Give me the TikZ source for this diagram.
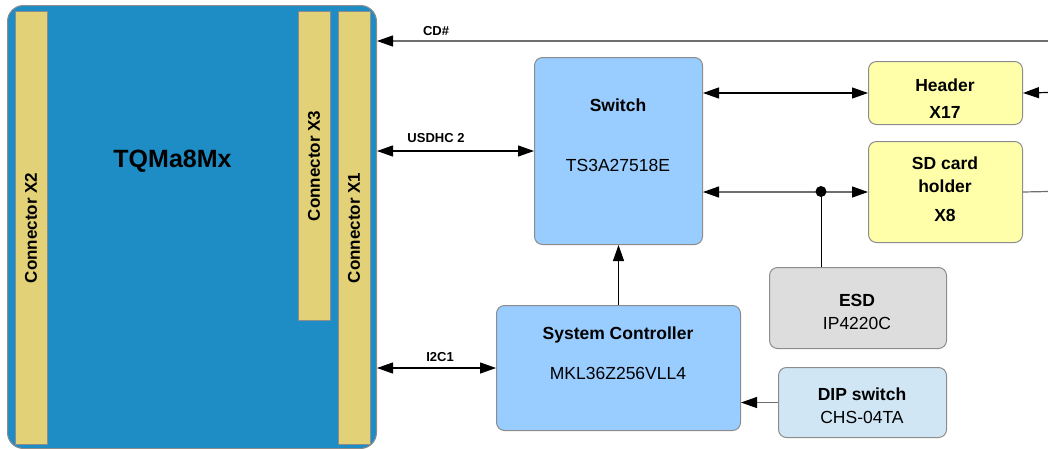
\documentclass[tikz,border=0pt]{standalone}
\usepackage{fontspec}
\setmainfont{Liberation Sans}
\usetikzlibrary{arrows.meta}
\definecolor{tqblue}{HTML}{1E8DC5}
\definecolor{conyel}{HTML}{E2D176}
\definecolor{swblue}{HTML}{99CCFF}
\definecolor{hdryel}{HTML}{FFFFAA}
\definecolor{esdgray}{HTML}{DDDDDD}
\definecolor{dipblue}{HTML}{D0E6F5}
\definecolor{edgegray}{HTML}{8C8C8C}
\definecolor{linegray}{HTML}{6E6E6E}
\tikzset{
  >={Triangle[length=16pt,width=11pt,color=black]},
  blk/.style={draw=edgegray, line width=1pt, rounded corners=8pt, anchor=north west, inner sep=0pt},
  conn/.style={draw=edgegray, line width=1pt, fill=conyel, anchor=north west, inner sep=0pt},
  ttl/.style={font=\fontsize{17.5}{21}\selectfont\bfseries, inner sep=0pt},
  sub/.style={font=\fontsize{17.5}{21}\selectfont, inner sep=0pt},
  lbl/.style={font=\fontsize{13}{15}\selectfont\bfseries, inner sep=0pt},
  contxt/.style={font=\fontsize{17}{20}\selectfont\bfseries, inner sep=0pt, rotate=90},
  sig/.style={line width=1.2pt, draw=black},
  gsig/.style={line width=1.2pt, draw=linegray},
}
\begin{document}
\begin{tikzpicture}[x=1pt,y=-1pt]
\useasboundingbox (0,0) rectangle (1048,448);
% main module
\node[blk, rounded corners=16pt, fill=tqblue, minimum width=369pt, minimum height=443pt] (tq) at (7,5) {};
\node[conn, minimum width=32pt, minimum height=433pt] (x2) at (15,11) {};
\node[conn, minimum width=32pt, minimum height=309pt] (x3) at (298,11) {};
\node[conn, minimum width=32pt, minimum height=433pt] (x1) at (338,11) {};
\node[font=\fontsize{25}{30}\selectfont\bfseries, inner sep=0pt] (tqt) at (172.5,161) {TQMa8Mx};
\node[contxt] (x2t) at (31,228) {Connector X2};
\node[contxt] (x3t) at (314,166) {Connector X3};
\node[contxt] (x1t) at (354,228) {Connector X1};
% blocks
\node[blk, fill=swblue, minimum width=168pt, minimum height=187pt] (sw) at (534,57) {};
\node[ttl] (swt) at (618,105) {Switch};
\node[sub] (sws) at (618,165) {TS3A27518E};
\node[blk, fill=hdryel, minimum width=154pt, minimum height=63pt] (hdr) at (868,61) {};
\node[ttl] (hdrt) at (945,85) {Header};
\node[ttl] (hdrs) at (945,112) {X17};
\node[blk, fill=hdryel, minimum width=154pt, minimum height=101pt] (sd) at (868,141) {};
\node[ttl] (sdt1) at (945,163) {SD card};
\node[ttl] (sdt2) at (945,186) {holder};
\node[ttl] (sds) at (945,215) {X8};
\node[blk, fill=esdgray, minimum width=177pt, minimum height=81pt] (esd) at (769,267) {};
\node[ttl] (esdt) at (857,300) {ESD};
\node[sub] (esds) at (857,323) {IP4220C};
\node[blk, fill=swblue, minimum width=244pt, minimum height=125pt] (sc) at (496,305) {};
\node[ttl] (sct) at (618,335) {System Controller};
\node[sub] (scs) at (618,373) {MKL36Z256VLL4};
\node[blk, fill=dipblue, minimum width=168pt, minimum height=70pt] (dip) at (778,367) {};
\node[ttl] (dipt) at (862,394) {DIP switch};
\node[sub] (dips) at (862,417) {CHS-04TA};
% free ends
\coordinate (cdin) at (1048,41);
\coordinate (hin) at (1048,92.5);
\coordinate (sdout) at (1048,191.5);
\coordinate (jn) at (821,191.5);
% connectors
\draw[gsig, ->] (cdin) -- (cdin -| tq.east);
\node[lbl] (cdl) at (436,31) {CD\#};
\draw[sig, <->] (sw.west -| tq.east) -- (sw.west);
\node[lbl] (usl) at (436,138) {USDHC 2};
\draw[sig, <->] (sc.west -| tq.east) -- (sc.west);
\node[lbl] (i2l) at (440,357) {I2C1};
\draw[sig, <->] (hdr.west -| sw.east) -- (hdr.west);
\draw[sig, ->] (hin) -- (hdr.east);
\draw[gsig, <->] (sd.west -| sw.east) -- (sd.west);
\draw[gsig] (sd.east) -- (sdout);
\draw[line width=1pt, draw=black] (jn) -- (jn |- esd.north);
\fill[black] (jn) circle (5.5pt);
\draw[sig, ->] (sc.north) -- (sw.south);
\draw[gsig, ->] (dip.west) -- (dip.west -| sc.east);
\end{tikzpicture}
\end{document}
